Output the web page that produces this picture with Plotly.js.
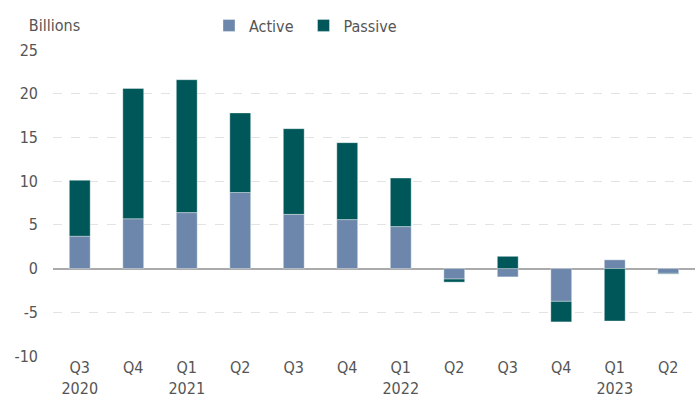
<!DOCTYPE html>
<html>
<head>
<meta charset="utf-8">
<script src="https://cdn.plot.ly/plotly-3.0.1.min.js"></script>
<style>
html,body{margin:0;padding:0;background:#fff;}
#chart{width:700px;height:411px;}
#chart svg text{font-stretch:condensed !important;}
</style>
</head>
<body>
<div id="chart"></div>
<script>
var categories = ["Q3<br>2020","Q4<br> ","Q1<br>2021","Q2<br>  ","Q3<br>   ","Q4<br>    ","Q1<br>2022","Q2<br>     ","Q3<br>      ","Q4<br>       ","Q1<br>2023","Q2<br>        "];
var activeValues = [3.7, 5.7, 6.4, 8.7, 6.2, 5.6, 4.8, -1.2, -0.95, -3.75, 1.0, -0.55];
var passiveValues = [6.4, 14.9, 15.2, 9.1, 9.8, 8.8, 5.55, -0.35, 1.4, -2.35, -6.0, -0.08];
var yTicks = [-10, -5, 0, 5, 10, 15, 20, 25];

var fontFam = "Liberation Sans Narrow, DejaVu Sans";
var traces = [
  {type:'bar', name:'Active', x:categories, y:activeValues, width:0.39,
   marker:{color:'#6c87ab', line:{color:'rgba(255,255,255,0.6)', width:0.6}}},
  {type:'bar', name:'Passive', x:categories, y:passiveValues, width:0.39,
   marker:{color:'#00575a', line:{color:'rgba(255,255,255,0.6)', width:0.6}}}
];
var layout = {
  width:700, height:411,
  margin:{l:53, r:5, t:50, b:55},
  barmode:'relative',
  paper_bgcolor:'#fff', plot_bgcolor:'#fff',
  font:{family:fontFam, size:16, color:'#555'},
  showlegend:true,
  legend:{orientation:'h', x:0.243, xanchor:'left', y:1.08, yanchor:'middle',
          font:{family:fontFam, size:16, color:'#555'}, itemwidth:30, traceorder:'normal'},
  xaxis:{type:'category', showgrid:false, zeroline:false, showline:false, ticks:'',
         tickfont:{family:fontFam, size:16, color:'#555'}, fixedrange:true},
  yaxis:{range:[-10,25], tickvals:yTicks, ticktext:yTicks.map(String), showgrid:true,
         gridcolor:'#e3e3e3', griddash:'dash', gridwidth:1,
         zeroline:true, zerolinecolor:'#aaaaaa', zerolinewidth:2,
         showline:false, ticks:'', ticklabelstandoff:14,
         tickfont:{family:fontFam, size:16, color:'#555'}},
  annotations:[{text:'Billions', xref:'paper', yref:'paper', x:0, y:1.08, xanchor:'left', yanchor:'middle',
                xshift:-29, showarrow:false, font:{family:fontFam, size:16, color:'#555'}}]
};
Plotly.newPlot('chart', traces, layout, {displayModeBar:false, staticPlot:true});
</script>
</body>
</html>
